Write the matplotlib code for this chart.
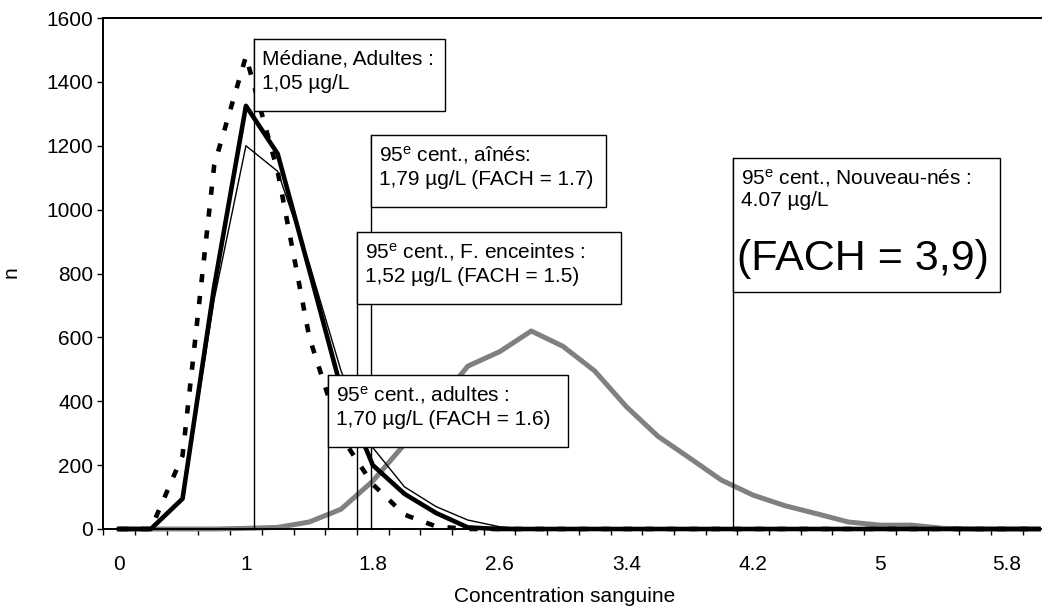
import numpy as np
import matplotlib
matplotlib.use("Agg")
import matplotlib.pyplot as plt
from matplotlib.patches import Rectangle

plt.rcParams['font.family'] = ['Liberation Sans', 'DejaVu Sans']
plt.rcParams['mathtext.fontset'] = 'custom'
plt.rcParams['mathtext.rm'] = 'Liberation Sans'
plt.rcParams['mathtext.it'] = 'Liberation Sans:italic'

# concentration classes (x categories)
concentration = [0, 0.4, 0.6, 0.8, 1.0, 1.2, 1.4, 1.6, 1.8, 2.0,
                 2.2, 2.4, 2.6, 2.8, 3.0, 3.2, 3.4, 3.6, 3.8, 4.0,
                 4.2, 4.4, 4.6, 4.8, 5.0, 5.2, 5.4, 5.6, 5.8, 6.0]

# counts per class
adultes = [0, 0, 95, 760, 1325, 1175, 810, 440, 200, 110,
           50, 5, 0, 0, 0, 0, 0, 0, 0, 0,
           0, 0, 0, 0, 0, 0, 0, 0, 0, 0]
aines = [0, 0, 90, 720, 1200, 1120, 830, 495, 255, 132,
         70, 28, 7, 0, 0, 0, 0, 0, 0, 0,
         0, 0, 0, 0, 0, 0, 0, 0, 0, 0]
enceintes = [0, 0, 230, 1140, 1480, 1120, 600, 290, 140, 45,
             8, 0, 0, 0, 0, 0, 0, 0, 0, 0,
             0, 0, 0, 0, 0, 0, 0, 0, 0, 0]
nouveau_nes = [0, 0, 0, 0, 2, 5, 22, 62, 150, 265,
               390, 510, 555, 620, 572, 495, 383, 290, 222, 153,
               106, 73, 48, 22, 12, 12, 2, 0, 0, 0]

# reference values marked by vertical lines (µg/L)
marker_values = [1.05, 1.52, 1.70, 1.79, 4.07]

# callout texts: (lines, index of marker line, box top, box width in classes)
callouts = [
    (["Médiane, Adultes :", "1,05 µg/L"], 0, 1534, 6.03),
    (["95$^{\\rm e}$ cent., aînés:", "1,79 µg/L (FACH = 1.7)"], 3, 1234, 7.41),
    (["95$^{\\rm e}$ cent., F. enceintes :", "1,52 µg/L (FACH = 1.5)"], 2, 931, 8.33),
    (["95$^{\\rm e}$ cent., adultes :", "1,70 µg/L (FACH = 1.6)"], 1, 482, 7.57),
]
newborn_lines = ["95$^{\\rm e}$ cent., Nouveau-nés :", "4.07 µg/L"]
newborn_big = "(FACH = 3,9)"

FS = 15
PX = 0.72  # points per pixel at dpi 100
px2val = 1600 / 511.0

fig = plt.figure(figsize=(10.42, 6.09), dpi=100)
ax = fig.add_axes([103.3 / 1042, 80 / 609, 951 / 1042, 511 / 609])

idx = np.arange(len(concentration))

ax.plot(idx, nouveau_nes, color='#808080', lw=3.6, clip_on=False, zorder=2)
ax.plot(idx, aines, color='black', lw=1.0, clip_on=False, zorder=3)
ax.plot(idx, adultes, color='black', lw=3.3, clip_on=False, zorder=4)
ax.plot(idx, enceintes, color='black', lw=3.3, dashes=(1.8, 3.0),
        clip_on=False, zorder=5)

line_x = np.interp(marker_values, concentration, idx)

for lines, k, top, width in callouts:
    x0 = line_x[k]
    height = 72 * px2val
    ax.plot([x0, x0], [0, top], color='black', lw=1.0, zorder=6,
            clip_on=False)
    ax.add_patch(Rectangle((x0, top - height), width, height,
                           facecolor='white', edgecolor='black', lw=1.0,
                           zorder=7))
    for j, txt in enumerate(lines):
        ax.annotate(txt, xy=(x0, top), xytext=(8 * PX, -(20 + 24.5 * j) * PX),
                    textcoords='offset points', ha='left', va='center',
                    fontsize=FS, zorder=8)

# newborn callout, with the large factor text
x5 = line_x[4]
top5 = 1162
h5 = 134.5 * px2val
ax.plot([x5, x5], [0, top5], color='black', lw=1.0, zorder=6, clip_on=False)
ax.add_patch(Rectangle((x5, top5 - h5), 8.45, h5, facecolor='white',
                       edgecolor='black', lw=1.0, zorder=7))
for j, txt in enumerate(newborn_lines):
    ax.annotate(txt, xy=(x5, top5), xytext=(8 * PX, -(20 + 23 * j) * PX),
                textcoords='offset points', ha='left', va='center',
                fontsize=FS, zorder=8)
ax.annotate(newborn_big, xy=(x5, top5), xytext=(4 * PX, -101 * PX),
            textcoords='offset points', ha='left', va='center',
            fontsize=31, zorder=8)

ax.set_xlim(-0.5, len(concentration) - 0.5)
ax.set_ylim(0, 1600)

ax.set_yticks(np.arange(0, 1601, 200))
ax.set_xticks(idx[::4])
ax.set_xticklabels(['%g' % c for c in concentration[::4]])
ax.set_xticks(np.arange(-0.5, len(concentration)), minor=True)
ax.tick_params(axis='x', which='major', length=0, pad=19, labelsize=FS)
ax.tick_params(axis='x', which='minor', length=4.3, width=1.0,
               direction='out')
ax.tick_params(axis='y', length=4.3, width=1.0, direction='out', pad=3,
               labelsize=FS)

for side in ['left', 'bottom', 'top']:
    ax.spines[side].set_linewidth(1.4)
ax.spines['right'].set_visible(False)

fig.text(565 / 1042, 1 - 597 / 609, 'Concentration sanguine', ha='center',
         va='center', fontsize=FS)
fig.text(11 / 1042, 1 - 272 / 609, 'n', rotation=90, ha='center',
         va='center', fontsize=FS)

fig.savefig('out.png', dpi=100)
